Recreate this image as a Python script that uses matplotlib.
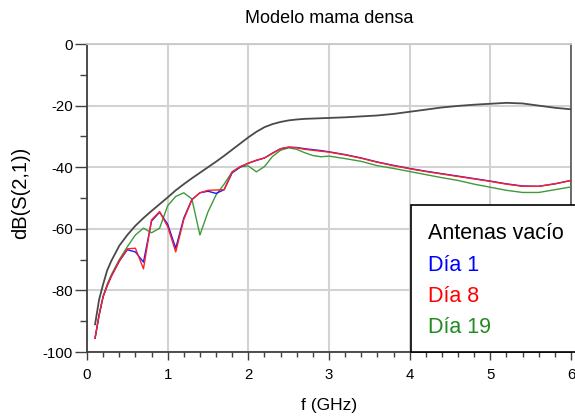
import numpy as np
import matplotlib.pyplot as plt
from matplotlib.patches import Rectangle
from matplotlib.ticker import MultipleLocator

plt.rcParams['font.family'] = ['Liberation Sans', 'DejaVu Sans']
plt.rcParams['axes.unicode_minus'] = False

# frequency grid (GHz)
freq = [0.1, 0.15, 0.2, 0.25, 0.3, 0.4, 0.5, 0.6, 0.7, 0.8, 0.9, 1.0,
        1.1, 1.2, 1.3, 1.4, 1.5, 1.6, 1.7, 1.8, 1.9, 2.0,
        2.1, 2.2, 2.3, 2.4, 2.5, 2.6, 2.7, 2.8, 2.9, 3.0,
        3.2, 3.4, 3.6, 3.8, 4.0, 4.2, 4.4, 4.6, 4.8, 5.0,
        5.2, 5.4, 5.6, 5.8, 6.0]

# dB(S(2,1)) per case
s21_vacio = [-91, -83, -78, -73.5, -70.5, -65.5, -62, -59, -56.5, -54.2, -52, -49.8,
             -47.5, -45.5, -43.6, -41.8, -40, -38.2, -36.3, -34.3, -32.3, -30.3,
             -28.5, -27, -26, -25.3, -24.8, -24.5, -24.3, -24.2, -24.1, -24,
             -23.8, -23.5, -23.2, -22.7, -22, -21.3, -20.6, -20.1, -19.7, -19.4,
             -19.1, -19.3, -20, -20.7, -21.2]
s21_dia1 = [-95.5, -88, -82, -78.5, -75.5, -70.5, -66.8, -67.5, -70.8, -57.5, -54.6, -58.5,
            -66.3, -56.5, -50.5, -48.3, -47.8, -48.5, -47.3, -41.8, -40, -38.7,
            -37.8, -37, -35.4, -34, -33.5, -33.6, -34, -34.3, -34.6, -35,
            -35.9, -37, -38.3, -39.4, -40.4, -41.3, -42.1, -42.9, -43.7, -44.5,
            -45.4, -46.1, -46.2, -45.4, -44.3]
s21_dia8 = [-95.5, -88, -82, -78.5, -75.5, -70.5, -66.5, -66.3, -73, -57.1, -54.4, -59.3,
            -67.5, -57, -50.6, -48.3, -47.5, -47.4, -47.3, -41.5, -39.8, -38.7,
            -37.7, -37, -35.5, -34, -33.5, -33.7, -34.2, -34.5, -34.8, -35.1,
            -36, -37.1, -38.4, -39.5, -40.5, -41.4, -42.2, -43, -43.8, -44.6,
            -45.5, -46.2, -46.2, -45.4, -44.3]
s21_dia19 = [-95.5, -88, -82, -78, -75, -70, -65.8, -62, -59.8, -61.3, -59.8, -52.5,
             -49.5, -48.3, -50.3, -62, -54.5, -49, -45.5, -41.5, -39.8, -39.6,
             -41.5, -39.8, -36.5, -34.5, -33.7, -34.2, -35.3, -36.2, -36.6, -36.4,
             -37.2, -38.1, -39.5, -40.4, -41.4, -42.4, -43.4, -44.3, -45.5, -46.5,
             -47.5, -48.2, -48.2, -47.3, -46.4]

legend_labels = ['Antenas vacío', 'Día 1', 'Día 8', 'Día 19']
legend_colors = ['black', '#0000ff', '#ff0000', '#228b22']

fig = plt.figure(figsize=(5.75, 4.16), dpi=100)
ax = fig.add_axes([0.1513, 0.1538, 0.8417, 0.7404])

ax.plot(freq, s21_vacio, color='#4a4a4a', lw=1.3, zorder=3)
ax.plot(freq, s21_dia19, color='#3d9a3d', lw=1.0, zorder=3)
ax.plot(freq, s21_dia1, color='#1a1aff', lw=1.0, zorder=4)
ax.plot(freq, s21_dia8, color='#ff2020', lw=1.0, zorder=5)

ax.set_xlim(0, 6)
ax.set_ylim(-100, 0)
ax.xaxis.set_major_locator(MultipleLocator(1))
ax.xaxis.set_minor_locator(MultipleLocator(0.2))
ax.yaxis.set_major_locator(MultipleLocator(20))
ax.yaxis.set_minor_locator(MultipleLocator(10))
ax.grid(which='major', color='#d2d2d2', lw=1.5, zorder=0)
ax.set_axisbelow(True)

ax.tick_params(axis='x', which='major', direction='out', length=5.5, width=1,
               color='#404040', pad=6, labelsize=10.8)
ax.tick_params(axis='x', which='minor', direction='out', length=3.5, width=1,
               color='#404040')
ax.tick_params(axis='y', which='major', direction='out', length=8.5, width=1,
               color='#404040', pad=1.5, labelsize=10.8)
ax.tick_params(axis='y', which='minor', direction='out', length=5, width=1,
               color='#404040')

for side in ['left', 'bottom']:
    ax.spines[side].set_color('#404040')
    ax.spines[side].set_linewidth(1.3)
ax.spines['right'].set_color('#606060')
ax.spines['right'].set_linewidth(1.3)
ax.spines['top'].set_color('#c8c8c8')
ax.spines['top'].set_linewidth(1.3)

# legend panel in the lower right corner
box = Rectangle((0.669, 0.0), 0.4, 0.477, transform=ax.transAxes,
                facecolor='white', edgecolor='black', lw=1.2,
                zorder=10, clip_on=False)
ax.add_patch(box)
legend_y = [0.386, 0.282, 0.179, 0.078]
for label, col, yy in zip(legend_labels, legend_colors, legend_y):
    ax.text(0.705, yy, label, color=col, fontsize=15.5, transform=ax.transAxes,
            va='center', ha='left', zorder=11)

fig.text(0.572, 0.955, 'Modelo mama densa', ha='center', va='center', fontsize=13)
fig.text(0.573, 0.026, 'f (GHz)', ha='center', va='center', fontsize=12.5)
fig.text(0.036, 0.536, 'dB(S(2,1))', ha='center', va='center', fontsize=14.5,
         rotation=90)

fig.savefig('out.png', dpi=100)
